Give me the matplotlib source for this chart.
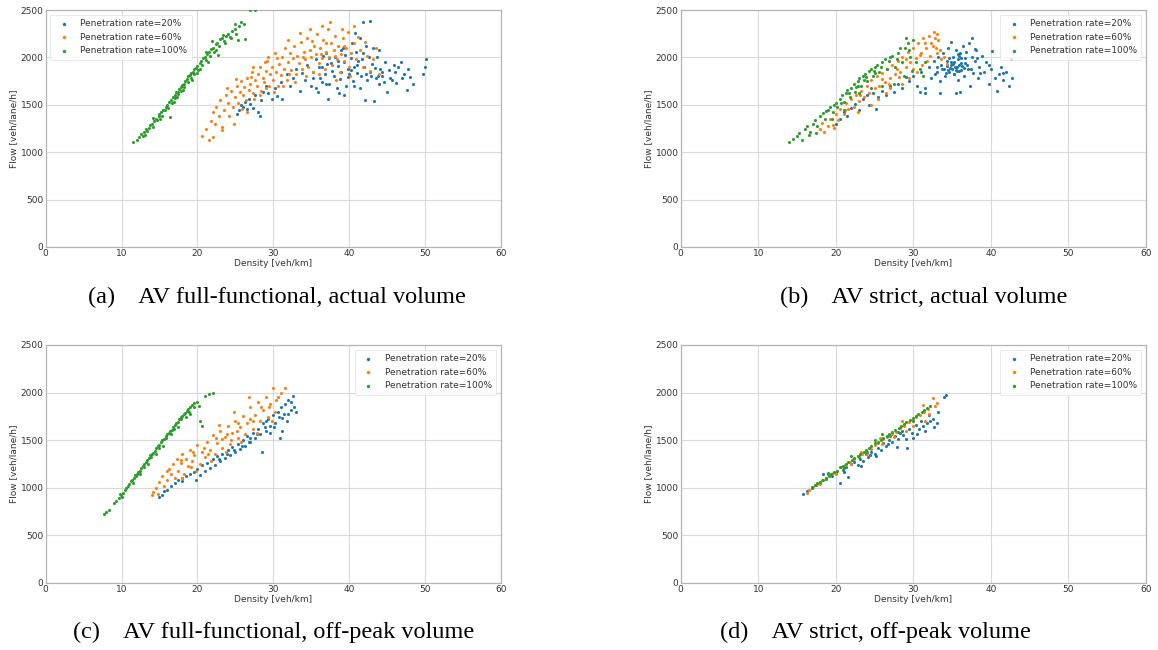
import matplotlib
matplotlib.use("Agg")
import matplotlib.pyplot as plt

# ---------------- data ----------------
series_labels = ["Penetration rate=20%", "Penetration rate=60%", "Penetration rate=100%"]
x_ticks = [0, 10, 20, 30, 40, 50, 60]
y_ticks = [0, 500, 1000, 1500, 2000, 2500]
captions = ["(a)    AV full-functional, actual volume",
            "(b)    AV strict, actual volume",
            "(c)    AV full-functional, off-peak volume",
            "(d)    AV strict, off-peak volume"]

# Panel (a)
a_p20 = [(25.2,1400),(25.5,1450),(25.8,1500),(26.0,1480),(26.3,1530),(26.5,1460),(26.8,1560),(27.0,1510),(27.3,1470),(27.6,1600),
         (28.0,1420),(28.2,1380),(28.4,1550),(28.7,1640),(29.0,1700),(29.3,1620),(29.8,1560),(30.2,1680),(30.5,1590),(31.0,1740),
         (31.2,1560),(31.8,1820),(32.2,1700),(32.6,1780),(33.0,1880),(33.5,1650),(33.8,1840),(34.2,1760),(34.5,1920),(35.0,1700),
         (35.3,1850),(35.6,1980),(35.9,1640),(36.2,1780),(36.5,1900),(36.8,1830),(37.0,2050),(37.2,1560),(37.4,1720),(37.6,1940),
         (37.8,1860),(38.0,1800),(38.2,2000),(38.4,1680),(38.6,1910),(38.8,1770),(39.0,1850),(39.2,2100),(39.4,1950),(39.6,1700),
         (39.8,1880),(40.0,1820),(40.2,1990),(40.4,2150),(40.5,1750),(40.7,1900),(40.9,2060),(41.0,1840),(41.2,1960),(41.4,1680),
         (41.5,2200),(41.6,1800),(41.8,2050),(42.0,1900),(42.1,1550),(42.3,2120),(42.4,1760),(42.6,2000),(42.8,1850),(43.0,1930),
         (43.2,2100),(43.3,1540),(43.5,1780),(43.7,2000),(43.9,1720),(44.1,1880),(44.4,1800),(44.7,1950),(45.0,1640),(45.3,1870),
         (45.6,1760),(45.9,1920),(46.2,1730),(46.5,1900),(46.8,1950),(47.0,1780),(47.3,1820),(47.6,1660),(48.0,1790),(48.5,1720),
         (49.8,1830),(50.0,1900),(50.2,1980),(42.7,2380),(41.9,2370),(40.8,2260),(44.0,2080),(36.0,1900),(38.5,1960),(40.3,1870),
         (37.3,1990),(39.5,2030),(41.1,1920),(35.2,1780),(36.9,1720),(42.9,1800),(44.3,1850),(39.9,1790),
         (35.7,1680),(36.4,1740),(38.7,1620),(39.3,1600),(40.6,1700),(41.7,1980),(42.2,1830),(43.4,1890),(43.8,1800),(44.6,1740),
         (45.4,1780),(46.0,1850),(47.8,1880),(38.9,2080),(37.1,1930),(36.6,2010)]
a_p60 = [(20.6,1170),(21.5,1130),(21.2,1250),(21.8,1330),(22.0,1420),(22.3,1300),(22.5,1480),(22.8,1380),(23.0,1550),(23.2,1230),
         (23.5,1450),(23.8,1600),(24.0,1520),(24.2,1380),(24.5,1650),(24.7,1480),(25.0,1580),(25.2,1700),(25.4,1520),(25.6,1640),
         (25.8,1750),(26.0,1600),(26.2,1690),(26.4,1550),(26.6,1780),(26.8,1660),(27.0,1720),(27.2,1850),(27.4,1620),(27.6,1760),
         (27.8,1700),(28.0,1820),(28.2,1900),(28.4,1650),(28.6,1780),(28.8,1740),(29.0,1860),(29.2,1960),(29.4,1700),(29.6,1820),
         (29.8,1900),(30.0,1760),(30.2,2050),(30.4,1850),(30.6,1700),(30.8,1930),(31.0,1810),(31.2,2000),(31.4,1880),(31.6,2100),
         (31.8,1760),(32.0,1950),(32.2,2050),(32.4,1870),(32.6,1990),(32.8,2120),(33.0,1820),(33.2,2020),(33.4,1940),(33.6,2160),
         (33.8,1880),(34.0,2060),(34.2,1980),(34.4,2200),(34.6,1900),(34.8,2080),(35.0,2000),(35.2,1850),(35.4,2120),(35.6,2040),
         (35.8,2250),(36.0,1940),(36.2,2100),(36.4,1990),(36.6,2180),(36.8,1880),(37.0,2060),(37.2,2300),(37.4,2000),(37.6,2150),
         (37.8,1920),(38.0,2080),(38.2,2230),(38.4,1980),(38.6,2120),(38.8,1850),(39.0,2040),(39.2,2200),(39.4,1960),(39.6,2100),
         (39.8,2270),(40.0,1900),(40.3,2050),(40.6,2150),(40.9,1980),(41.2,2220),(41.5,2080),(41.8,1900),(42.1,2160),(42.4,2020),
         (42.8,1860),(43.2,1980),(43.6,2100),(44.0,1830),(37.5,2370),(36.5,2330),(23.3,1270),(24.8,1300),(22.1,1160),(26.5,1420),
         (27.1,1790),(28.9,1950),(30.5,1990),(32.1,1830),(33.9,2000),(35.1,2170),(36.3,2040),(38.1,2010),(39.3,2120),(29.1,1680),
         (25.9,1460),(27.5,1560),(28.3,1600),(30.1,1640),(31.3,1700),(32.9,1740),(34.3,1800),(36.1,1820),(38.3,1760),(40.1,1800),
         (27.3,1900),(29.3,2000),(31.9,2180),(33.5,2260),(34.9,2300),(36.9,2150),(39.1,2300),(40.7,2330),(23.9,1680),(25.1,1770)]
a_p100 = [(11.5,1105),(12.0,1130),(12.3,1160),(12.6,1190),(12.8,1175),(13.0,1210),(13.2,1240),(13.4,1225),(13.6,1260),(13.8,1290),
          (14.0,1300),(14.1,1270),(14.3,1330),(14.5,1350),(14.7,1340),(14.9,1380),(15.0,1400),(15.2,1420),(15.3,1385),(15.5,1450),
          (15.7,1440),(15.8,1480),(16.0,1500),(16.1,1470),(16.3,1530),(16.5,1550),(16.6,1520),(16.8,1580),(17.0,1600),(17.1,1570),
          (17.2,1630),(17.4,1640),(17.5,1610),(17.6,1670),(17.8,1690),(17.9,1650),(18.0,1710),(18.2,1720),(18.3,1690),(18.4,1750),
          (18.6,1770),(18.7,1740),(18.8,1800),(19.0,1810),(19.1,1780),(19.2,1840),(19.4,1850),(19.5,1820),(19.6,1880),(19.8,1890),
          (20.0,1910),(20.1,1870),(20.3,1940),(20.5,1960),(20.6,1920),(20.8,1990),(21.0,2000),(21.2,1970),(21.3,2040),(21.5,2060),
          (21.6,2010),(21.8,2090),(22.0,2100),(22.2,2060),(22.4,2140),(22.6,2150),(22.8,2120),(23.0,2190),(23.2,2200),(23.5,2170),
          (23.8,2230),(24.0,2250),(24.3,2210),(24.6,2280),(25.0,2300),(25.3,2180),(25.5,2330),(25.8,2370),(26.1,2350),(26.3,2190),
          (27.0,2495),(27.6,2495),(16.4,1370),(22.7,2030),(21.9,2170),
          (14.2,1360),(15.1,1350),(16.9,1530),(18.1,1660),(19.3,1760),(20.4,1880),(21.4,1950),(22.5,2080),(23.6,2150),(24.5,2200),
          (25.1,2250),(13.1,1180),(17.3,1580),(19.9,1840),(21.1,2060),(23.4,2240),(24.9,2350)]

# Panel (b)
b_p20 = [(20.0,1300),(20.5,1350),(21.0,1420),(21.5,1380),(22.0,1470),(22.5,1510),(23.0,1440),(23.5,1560),(24.0,1600),(24.3,1500),
         (24.8,1620),(25.2,1460),(25.5,1580),(26.0,1650),(26.5,1600),(27.0,1700),(27.5,1640),(28.0,1720),(28.5,1680),(29.0,1790),
         (29.5,1750),(30.0,1800),(30.5,1700),(31.0,1850),(31.5,1680),(32.0,1900),(32.3,1780),(32.6,1960),(33.0,1850),(33.2,2000),
         (33.4,1750),(33.6,1920),(33.8,2050),(34.0,1880),(34.1,1800),(34.3,1960),(34.5,2100),(34.6,1850),(34.8,1920),(35.0,1880),
         (35.1,2000),(35.2,1820),(35.3,1950),(35.4,1900),(35.5,2080),(35.6,1860),(35.7,1980),(35.8,1760),(35.9,1920),(36.0,2050),
         (36.1,1870),(36.2,1990),(36.4,2120),(36.5,1800),(36.6,1940),(36.8,2060),(37.0,1880),(37.2,2150),(37.3,1700),(37.5,2000),
         (37.7,1840),(37.9,1960),(38.1,2080),(38.3,1780),(38.5,1900),(38.8,2020),(39.1,1850),(39.4,1950),(39.7,1720),(40.0,1880),
         (40.2,2070),(40.5,1780),(40.8,1650),(41.0,1820),(41.3,1900),(41.6,1760),(42.0,1850),(42.3,1700),(42.6,1980),(42.7,1780),
         (35.5,1620),(36.0,1640),(33.5,1620),(31.5,1620),(30.8,1640),(34.9,2160),(37.6,2200),(34.7,1890),(35.15,1930),(35.45,1870),
         (34.4,1910),(35.85,2010),(36.3,1910),(34.2,1840),(33.1,1900),(36.7,1990),
         (34.5,1870),(34.9,1950),(35.3,1830),(35.6,1900),(35.9,1860),(36.2,1940),(36.5,1890),(34.6,1990),(35.8,2040),(36.9,1920),
         (37.4,1880),(38.6,1840),(39.8,1920),(41.5,1840),(32.8,1820),(33.7,1880),(37.9,2090),(38.2,1990)]
b_p60 = [(18.0,1250),(18.2,1310),(18.5,1210),(19.0,1280),(19.3,1350),(19.6,1290),(20.0,1400),(20.3,1340),(20.6,1460),(21.0,1400),
         (21.3,1520),(21.6,1460),(22.0,1560),(22.3,1480),(22.6,1600),(23.0,1540),(23.3,1650),(23.6,1580),(24.0,1700),(24.3,1620),
         (24.6,1760),(25.0,1680),(25.3,1800),(25.6,1700),(26.0,1840),(26.3,1740),(26.6,1880),(27.0,1780),(27.3,1920),(27.6,1820),
         (28.0,1960),(28.3,1850),(28.6,2000),(29.0,1900),(29.3,2060),(29.6,1950),(30.0,2100),(30.3,1990),(30.6,2150),(31.0,2050),
         (31.3,2200),(31.6,2100),(32.0,2230),(32.3,2150),(32.6,2270),(32.8,2200),(33.0,2250),(33.2,2180),(33.4,2080),(32.2,2010),
         (31.8,1960),(33.6,1980),(34.0,2000),(34.4,1930),(27.0,1680),(25.5,1560),(24.5,1500),(29.5,1780),(30.5,1850),(28.5,1720),
         (26.5,1620),(22.8,1420),(19.8,1260),(33.0,2050),(32.5,2120),(31.1,1920),(28.2,1790),(29.9,1880),
         (21.2,1450),(23.1,1600),(25.9,1770),(27.9,1880),(29.1,1980),(30.8,2030),(31.5,2150),(32.9,2100),(26.9,1720)]
b_p100 = [(14.0,1110),(14.5,1140),(15.0,1170),(15.3,1200),(15.6,1130),(16.0,1240),(16.3,1280),(16.7,1210),(17.0,1300),(17.3,1340),
          (17.6,1280),(18.0,1380),(18.3,1410),(18.6,1350),(19.0,1450),(19.3,1480),(19.6,1420),(20.0,1520),(20.2,1480),(20.5,1560),
          (20.8,1600),(21.0,1530),(21.3,1620),(21.5,1660),(21.8,1580),(22.0,1680),(22.3,1720),(22.5,1640),(22.8,1750),(23.0,1780),
          (23.2,1700),(23.5,1800),(23.8,1830),(24.0,1750),(24.3,1860),(24.6,1880),(24.8,1800),(25.0,1900),(25.3,1920),(25.6,1850),
          (26.0,1950),(26.3,1980),(26.6,1880),(27.0,2000),(27.3,2020),(27.6,1900),(28.0,2050),(28.3,2100),(28.6,1950),(29.0,2200),
          (29.3,2150),(29.6,2000),(30.0,2180),(30.4,1950),(30.8,1880),(31.2,1800),(31.5,1950),(27.5,1720),(26.0,1700),(28.8,1800),
          (29.8,1860),(24.5,1680),(23.0,1620),(21.0,1450),(19.5,1350),(17.5,1200),(16.5,1180),(22.6,1690),(23.9,1790),(25.1,1840),
          (18.8,1430),(19.8,1500),(20.7,1520),(21.7,1620),(22.9,1700),(23.7,1760),(24.9,1860),(25.8,1900),(26.8,1960),(27.9,1980),
          (28.9,2100),(29.4,2080)]

# Panel (c)
c_p20 = [(15.0,900),(15.3,920),(15.6,970),(16.0,980),(16.5,1020),(17.0,1050),(17.5,1080),(18.0,1100),(18.5,1120),(19.0,1150),
         (19.5,1170),(20.0,1200),(20.3,1130),(20.6,1240),(21.0,1180),(21.3,1260),(21.6,1210),(22.0,1300),(22.3,1240),(22.6,1330),
         (23.0,1280),(23.3,1360),(23.6,1310),(24.0,1400),(24.3,1340),(24.6,1430),(25.0,1380),(25.3,1460),(25.6,1410),(26.0,1500),
         (26.3,1440),(26.6,1540),(27.0,1480),(27.3,1580),(27.6,1520),(28.0,1620),(28.3,1560),(28.5,1380),(28.7,1680),(29.0,1600),
         (29.3,1720),(29.6,1650),(30.0,1760),(30.3,1680),(30.6,1800),(30.9,1520),(31.0,1850),(31.2,1600),(31.4,1780),(31.6,1880),
         (31.8,1700),(32.0,1920),(32.3,1820),(32.6,1960),(32.8,1850),(33.0,1800),(19.8,1080),(18.0,1070),(29.1,1700),(30.1,1640),
         (31.1,1730),(27.9,1560),(26.9,1520),
         (22.8,1300),(24.8,1400),(26.8,1480),(28.9,1640),(30.8,1740),(32.4,1900),(29.6,1580),(31.9,1780),(25.9,1440),(23.9,1350)]
c_p60 = [(14.0,920),(14.2,960),(14.5,1000),(14.8,940),(15.0,1060),(15.3,1120),(15.6,1020),(16.0,1080),(16.2,1200),(16.5,1140),
         (16.8,1250),(17.0,1100),(17.3,1300),(17.5,1180),(17.8,1260),(18.0,1350),(18.3,1150),(18.5,1300),(18.8,1230),(19.0,1400),
         (19.3,1280),(19.6,1340),(20.0,1450),(20.3,1250),(20.6,1380),(21.0,1320),(21.3,1480),(21.6,1400),(22.0,1550),(22.3,1350),
         (22.6,1470),(23.0,1600),(23.3,1420),(23.6,1530),(24.0,1650),(24.3,1460),(24.6,1580),(25.0,1700),(25.3,1520),(25.6,1640),
         (26.0,1750),(26.3,1560),(26.6,1680),(27.0,1850),(27.3,1620),(27.6,1760),(28.0,1900),(28.3,1700),(28.6,1820),(29.0,1950),
         (29.3,1740),(29.6,1880),(30.0,2050),(30.3,1800),(30.6,1950),(31.0,2000),(31.5,2050),(29.8,1700),(27.8,1580),(25.8,1480),
         (23.8,1380),(21.8,1280),(19.8,1180),(18.0,1100),(26.8,1950),(24.8,1800),(22.8,1660),(25.2,1600),(23.2,1510),
         (16.0,1180),(17.9,1290),(19.4,1380),(20.9,1420),(22.4,1520),(23.9,1560),(25.4,1680),(26.9,1720),(28.4,1850),(29.4,1850),
         (30.4,1920),(21.4,1350),(24.4,1500),(27.4,1700),(19.2,1220)]
c_p100 = [(7.7,720),(8.0,750),(8.3,770),(9.0,840),(9.3,860),(9.6,890),(9.9,920),(10.2,950),(10.4,980),(10.6,1000),
          (10.8,1020),(11.0,1040),(11.2,1070),(11.4,1080),(11.6,1100),(11.8,1130),(12.0,1140),(12.2,1170),(12.4,1180),(12.6,1210),
          (12.8,1230),(13.0,1250),(13.2,1270),(13.4,1290),(13.6,1310),(13.8,1340),(14.0,1350),(14.2,1370),(14.4,1390),(14.6,1420),
          (14.8,1440),(15.0,1450),(15.2,1480),(15.4,1500),(15.6,1510),(15.8,1540),(16.0,1560),(16.2,1580),(16.4,1600),(16.6,1610),
          (16.8,1640),(17.0,1660),(17.2,1680),(17.4,1690),(17.6,1720),(17.8,1740),(18.0,1750),(18.2,1780),(18.4,1790),(18.6,1810),
          (18.8,1830),(19.0,1850),(19.3,1870),(19.6,1890),(20.0,1900),(20.2,1860),(20.4,1700),(20.6,1650),(21.0,1960),(21.5,1990),
          (22.0,2000),(13.5,1250),(15.5,1440),(17.5,1640),(12.5,1150),(16.5,1560),(18.5,1740),(14.5,1350),(11.5,1050),(10.0,900),
          (19.0,1780),
          (9.8,930),(11.9,1120),(13.9,1320),(15.9,1520),(17.9,1720),(19.5,1850),(12.9,1220),(14.9,1420),(16.9,1620),(18.9,1800)]

# Panel (d)
d_p20 = [(15.8,940),(16.3,965),(16.9,1000),(17.4,1030),(18.0,1060),(18.3,1140),(18.8,1090),(19.0,1150),(19.5,1120),(20.0,1160),
         (20.5,1047),(20.9,1190),(21.3,1215),(21.6,1117),(22.0,1250),(22.4,1270),(22.8,1240),(23.1,1300),(23.5,1280),(23.9,1350),
         (24.2,1320),(24.6,1380),(25.0,1360),(25.4,1420),(25.8,1400),(26.1,1470),(26.5,1440),(26.9,1500),(27.2,1480),(27.6,1540),
         (28.0,1510),(28.3,1580),(28.7,1550),(29.2,1415),(29.4,1620),(29.8,1580),(30.0,1520),(30.3,1660),(30.7,1620),(31.0,1700),
         (31.5,1600),(31.8,1680),(32.0,1760),(32.5,1720),(33.0,1680),(33.2,1800),(34.2,1975),(34.0,1950),(27.9,1430),(29.0,1510),
         (30.5,1560),(32.7,1640),(25.2,1330),(23.3,1230),(31.3,1650),(32.2,1700),(26.7,1460),(24.4,1340),(21.1,1170),(28.5,1600)]
d_p60 = [(16.3,950),(16.6,975),(17.1,1010),(17.6,1040),(18.2,1080),(18.7,1100),(19.1,1130),(19.6,1160),(20.2,1180),(20.7,1220),
         (21.2,1240),(21.8,1270),(22.3,1300),(22.9,1330),(23.4,1350),(23.9,1390),(24.5,1410),(25.0,1450),(25.5,1470),(26.1,1510),
         (26.6,1530),(27.2,1570),(27.7,1590),(28.3,1630),(28.8,1650),(29.4,1690),(29.9,1710),(30.4,1740),(30.9,1760),(31.4,1800),
         (31.9,1830),(32.5,1940),(33.0,1890),(32.8,1860),(31.5,1700),(32.0,1780),(30.0,1650),(29.0,1600),(27.5,1530),(26.0,1460),
         (24.0,1360),(22.0,1250),(20.0,1140),(18.0,1040),(31.2,1870),(28.5,1700),(25.7,1520),(23.2,1380)]
d_p100 = [(16.9,1012),(17.3,1025),(17.6,1048),(18.0,1064),(18.3,1082),(18.7,1108),(19.1,1127),(19.4,1146),(19.8,1168),(20.1,1180),
          (20.6,1214),(20.9,1226),(21.3,1252),(21.6,1270),(22.1,1296),(22.4,1312),(22.8,1338),(23.1,1354),(23.6,1378),(23.9,1398),
          (24.3,1418),(24.6,1438),(25.1,1466),(25.4,1480),(25.8,1505),(26.1,1518),(26.6,1548),(26.9,1566),(27.3,1584),(27.6,1604),
          (28.1,1632),(28.4,1648),(28.8,1668),(29.1,1690),(29.6,1714),(29.9,1730),(30.3,1752),(30.6,1770),(31.1,1798),(31.4,1812),
          (31.8,1838),(32.2,1862),(22.0,1330),(24.0,1380),(26.0,1560),(28.0,1590),(19.0,1160),(30.0,1700),(27.0,1540),(23.0,1320),
          (25.0,1500),(21.0,1210)]

panels = [
    (a_p20, a_p60, a_p100),
    (b_p20, b_p60, b_p100),
    (c_p20, c_p60, c_p100),
    (d_p20, d_p60, d_p100),
]

# ---------------- style ----------------
colors = ["#1f77b4", "#ff7f0e", "#2ca02c"]
W, H = 1158, 650
fig = plt.figure(figsize=(W / 100, H / 100), dpi=100)

rects = [
    (45.7, 10, 500.7, 247),
    (680.7, 10, 1146, 247),
    (45.7, 345, 500.7, 583),
    (680.7, 345, 1146, 583),
]
legend_locs = ["upper left", "upper right", "upper right", "upper right"]
caption_pos = [(88, 297), (780, 297), (73, 632), (720, 632)]

plt.rcParams['font.family'] = ['DejaVu Sans']
fs = 6.5
txt = "#333333"

for i, (rect, data) in enumerate(zip(rects, panels)):
    x0, y0, x1, y1 = rect
    ax = fig.add_axes([x0 / W, 1 - y1 / H, (x1 - x0) / W, (y1 - y0) / H])
    for s_data, col, lab in zip(data, colors, series_labels):
        xs = [p[0] for p in s_data]
        ys = [p[1] for p in s_data]
        ax.scatter(xs, ys, s=5, c=col, linewidths=0, label=lab, zorder=3)
    ax.set_xlim(0, 60)
    ax.set_ylim(0, 2500)
    ax.set_xticks(x_ticks)
    ax.set_yticks(y_ticks)
    ax.grid(True, color="#d9d9d9", linewidth=0.8, zorder=0)
    ax.tick_params(length=0, pad=1.5, labelsize=fs, colors=txt)
    for sp in ax.spines.values():
        sp.set_color("#b5b5b5")
        sp.set_linewidth(0.9)
    ax.set_xlabel("Density [veh/km]", fontsize=fs, color=txt, labelpad=1)
    ax.set_ylabel("Flow [veh/lane/h]", fontsize=fs, color=txt, labelpad=2)
    leg = ax.legend(loc=legend_locs[i], fontsize=fs, markerscale=1.1, scatterpoints=1,
                    frameon=True, handletextpad=0.8, borderpad=0.5, labelspacing=0.5,
                    borderaxespad=0.5)
    leg.get_frame().set_edgecolor("#dddddd")
    leg.get_frame().set_linewidth(0.6)
    for t in leg.get_texts():
        t.set_color(txt)

for cap, (cx, cy) in zip(captions, caption_pos):
    fig.text(cx / W, 1 - cy / H, cap, family="Liberation Serif", fontsize=17.5,
             ha="left", va="center", color="black")

fig.savefig("out.png", dpi=100)
